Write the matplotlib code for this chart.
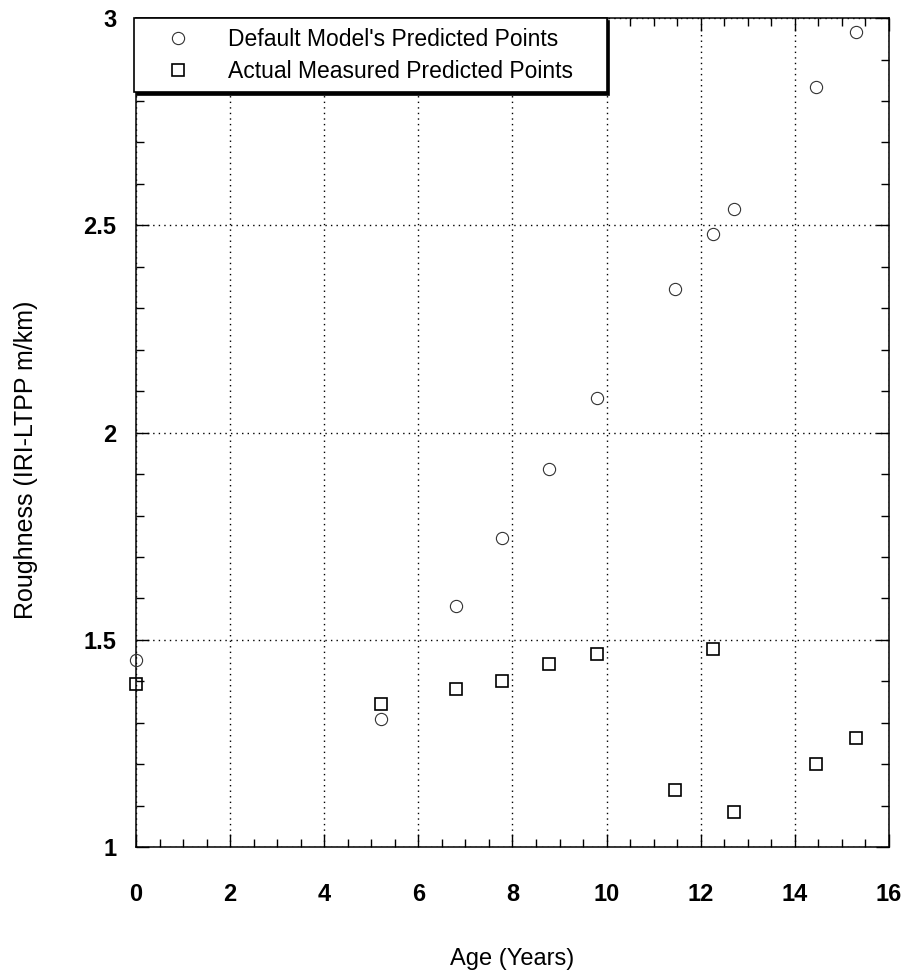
import numpy as np
import matplotlib
matplotlib.use('Agg')
import matplotlib.pyplot as plt
from matplotlib.ticker import MultipleLocator, FuncFormatter

plt.rcParams['font.family'] = ['Liberation Sans', 'DejaVu Sans']

# age of pavement (years), same for both series
Age = [0, 5.2, 6.8, 7.77, 8.77, 9.8, 11.45, 12.26, 12.7, 14.45, 15.3]
# default model predictions
Default_IRI = [1.451, 1.31, 1.582, 1.745, 1.912, 2.083, 2.346, 2.479, 2.539, 2.834, 2.966]
# actual measured
Measured_IRI = [1.393, 1.346, 1.381, 1.40, 1.441, 1.467, 1.139, 1.479, 1.085, 1.20, 1.263]

fig = plt.figure(figsize=(9.07, 9.76), dpi=100)
ax = fig.add_axes([0.150, 0.132, 0.830, 0.8495])

ax.plot(Age, Default_IRI, 'o', markersize=8.8, markerfacecolor='none',
        markeredgecolor='#333333', markeredgewidth=0.8, label="Default Model's Predicted Points",
        clip_on=False, zorder=3)
ax.plot(Age, Measured_IRI, 's', markersize=9.2, markerfacecolor='none',
        markeredgecolor='black', markeredgewidth=1.2, label='Actual Measured Predicted Points',
        clip_on=False, zorder=3)

ax.set_xlim(0, 16)
ax.set_ylim(1, 3)
ax.xaxis.set_major_locator(MultipleLocator(2))
ax.xaxis.set_minor_locator(MultipleLocator(0.5))
ax.yaxis.set_major_locator(MultipleLocator(0.5))
ax.yaxis.set_minor_locator(MultipleLocator(0.1))
ax.yaxis.set_major_formatter(FuncFormatter(lambda v, p: '%g' % v))

ax.tick_params(which='both', direction='in', top=True, right=True, width=1, color='black')
ax.tick_params(which='major', length=9.5)
ax.tick_params(which='minor', length=5.5)
ax.tick_params(axis='x', which='major', pad=26, labelsize=17)
ax.tick_params(axis='y', which='major', pad=14, labelsize=17)
for lab in ax.get_xticklabels() + ax.get_yticklabels():
    lab.set_fontweight('bold')

ax.grid(True, which='major', color='black', linestyle=(0, (1, 3)), linewidth=1)
for s in ax.spines.values():
    s.set_linewidth(1.1)
    s.set_color('black')

ax.set_xlabel('Age (Years)', fontsize=17)
ax.xaxis.set_label_coords(0.5, -0.122)
ax.set_ylabel('Roughness (IRI-LTPP m/km)', fontsize=18, va='center')
ax.yaxis.set_label_coords(-0.146, 0.467)

leg = ax.legend(loc='upper left', bbox_to_anchor=(-0.003, 0.0, 0.628, 1.0), mode='expand',
                fontsize=16.5, frameon=True, fancybox=False,
                shadow={'color': 'black', 'alpha': 1.0},
                borderaxespad=0, handletextpad=0.7, borderpad=0.42, labelspacing=0.4,
                handlelength=3.0)
leg.get_frame().set_edgecolor('black')
leg.get_frame().set_linewidth(1.2)
leg.get_frame().set_alpha(1.0)

fig.savefig('out.png', dpi=100)
